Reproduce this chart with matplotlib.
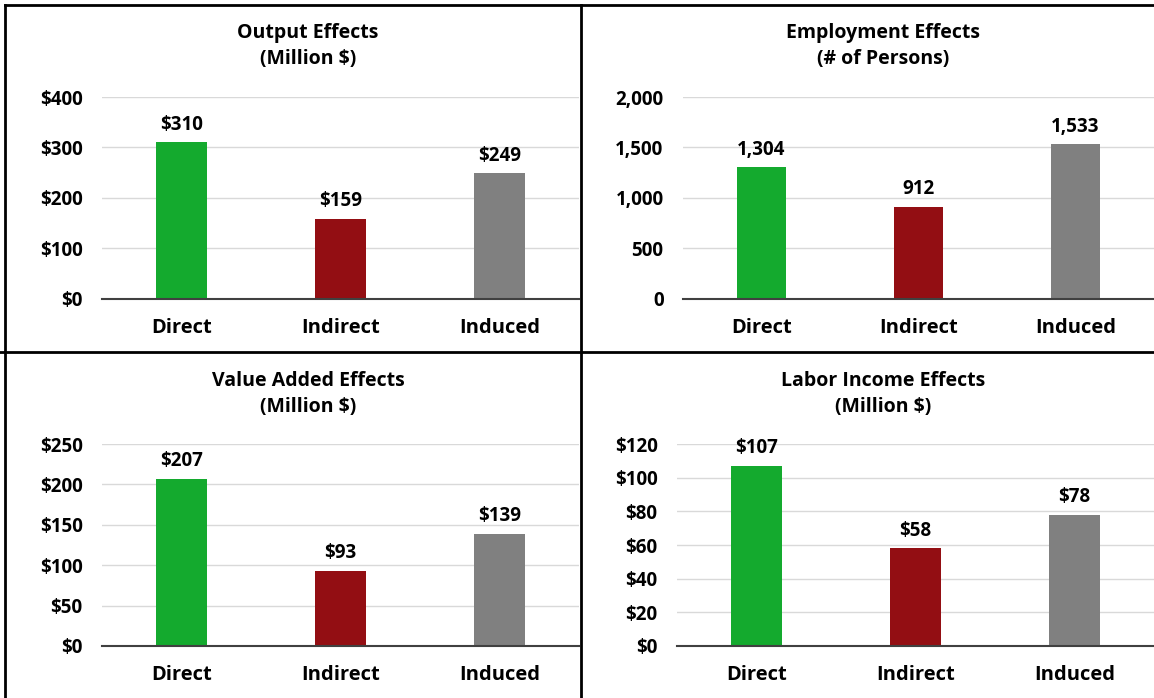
import matplotlib.pyplot as plt
from matplotlib.lines import Line2D

plt.rcParams['font.family'] = ['Open Sans', 'DejaVu Sans']
plt.rcParams['font.weight'] = 'bold'

categories = ['Direct', 'Indirect', 'Induced']
colors = ['#14aa2e', '#930e13', '#808080']

output_vals = [310, 159, 249]
employment_vals = [1304, 912, 1533]
value_added_vals = [207, 93, 139]
labor_vals = [107, 58, 78]

output_ticks = [0, 100, 200, 300, 400]
employment_ticks = [0, 500, 1000, 1500, 2000]
value_added_ticks = [0, 50, 100, 150, 200, 250]
labor_ticks = [0, 20, 40, 60, 80, 100, 120]

W, H = 1154, 698
fig = plt.figure(figsize=(W / 100, H / 100), dpi=100)


def px_axes(x0, x1, ytop, ybot):
    return fig.add_axes([x0 / W, 1 - ybot / H, (x1 - x0) / W, (ybot - ytop) / H])


def money(v):
    return f'${v:,.0f}'


def count(v):
    return f'{v:,.0f}'


panels = [
    (px_axes(102, 579, 97, 299), output_vals, output_ticks, money,
     'Output Effects\n(Million $)', 308, 46),
    (px_axes(683, 1154, 97, 299), employment_vals, employment_ticks, count,
     'Employment Effects\n(# of Persons)', 883, 46),
    (px_axes(102, 579, 444, 646), value_added_vals, value_added_ticks, money,
     'Value Added Effects\n(Million $)', 308, 394),
    (px_axes(677, 1154, 444, 646), labor_vals, labor_ticks, money,
     'Labor Income Effects\n(Million $)', 883, 394),
]

for ax, vals, ticks, fmt, title, tx, ty in panels:
    x = range(len(categories))
    ax.bar(x, vals, width=0.315, color=colors, zorder=3)
    ax.set_xlim(-0.5, 2.5)
    ax.set_ylim(ticks[0], ticks[-1])
    ax.set_yticks(ticks)
    ax.set_yticklabels([fmt(t) for t in ticks])
    ax.set_xticks(list(x))
    ax.set_xticklabels(categories)
    ax.grid(axis='y', color='#d9d9d9', linewidth=1, zorder=0)
    for s in ['top', 'right', 'left']:
        ax.spines[s].set_visible(False)
    ax.spines['bottom'].set_color('#404040')
    ax.spines['bottom'].set_linewidth(1.5)
    ax.spines['bottom'].set_zorder(4)
    ax.tick_params(axis='y', length=0, pad=14, labelsize=13.5)
    ax.tick_params(axis='x', length=0, pad=14, labelsize=14.5)
    for lbl in ax.get_xticklabels() + ax.get_yticklabels():
        lbl.set_fontweight('bold')
    for i, v in enumerate(vals):
        ax.annotate(fmt(v), (i, v), xytext=(0, 5.5), textcoords='offset points',
                    ha='center', va='bottom', fontsize=13.5, fontweight='bold')
    fig.text(tx / W, 1 - ty / H, title, ha='center', va='center',
             fontsize=14, fontweight='bold', linespacing=1.45)

# panel borders
border = dict(color='black', linewidth=2, transform=fig.transFigure)
fig.add_artist(Line2D([5 / W, 1], [1 - 5 / H, 1 - 5 / H], **border))
fig.add_artist(Line2D([5 / W, 5 / W], [0, 1 - 5 / H], **border))
fig.add_artist(Line2D([581 / W, 581 / W], [0, 1 - 5 / H], **border))
fig.add_artist(Line2D([0, 1], [1 - 352 / H, 1 - 352 / H], **border))

fig.savefig('out.png', dpi=100, facecolor='white')
